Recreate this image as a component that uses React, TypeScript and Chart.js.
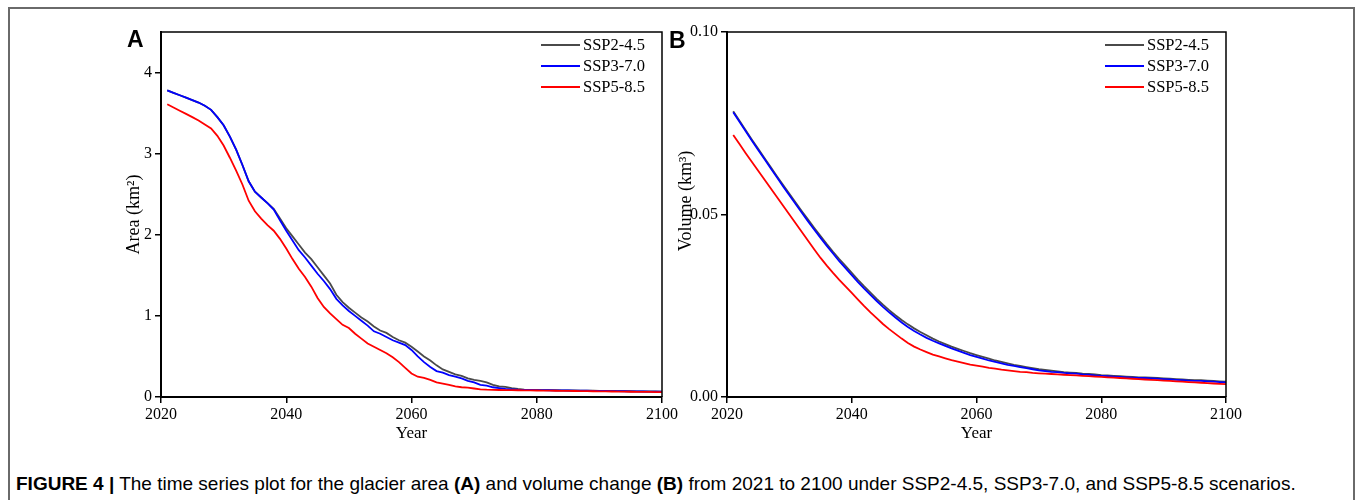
import React, { useEffect, useRef } from "react";
import { Chart, registerables } from "chart.js";

Chart.register(...registerables);

// ---------- data ----------
const years = [
  2021, 2022, 2023, 2024, 2025, 2026, 2027, 2028, 2029, 2030,
  2031, 2032, 2033, 2034, 2035, 2036, 2037, 2038, 2039, 2040,
  2041, 2042, 2043, 2044, 2045, 2046, 2047, 2048, 2049, 2050,
  2051, 2052, 2053, 2054, 2055, 2056, 2057, 2058, 2059, 2060,
  2061, 2062, 2063, 2064, 2065, 2066, 2067, 2068, 2069, 2070,
  2071, 2072, 2073, 2074, 2075, 2076, 2077, 2078, 2079, 2080,
  2081, 2082, 2083, 2084, 2085, 2086, 2087, 2088, 2089, 2090,
  2091, 2092, 2093, 2094, 2095, 2096, 2097, 2098, 2099, 2100,
];

const seriesNames = ["SSP2-4.5", "SSP3-7.0", "SSP5-8.5"];
const seriesColors = ["#4a4a4a", "#0000ff", "#ff0000"];

// Panel A: glacier area (km²)
const areaSSP245 = [
  3.78, 3.75, 3.72, 3.69, 3.66, 3.63, 3.59, 3.54, 3.45, 3.35,
  3.21, 3.05, 2.86, 2.66, 2.53, 2.46, 2.39, 2.32, 2.2, 2.08,
  1.98, 1.88, 1.78, 1.7, 1.6, 1.5, 1.4, 1.26, 1.17, 1.1,
  1.04, 0.98, 0.93, 0.87, 0.82, 0.79, 0.74, 0.7, 0.67, 0.62,
  0.56, 0.5, 0.45, 0.39, 0.34, 0.31, 0.28, 0.26, 0.23, 0.21,
  0.2, 0.18, 0.15, 0.13, 0.125, 0.11, 0.1, 0.092, 0.088, 0.086,
  0.085, 0.084, 0.083, 0.082, 0.081, 0.08, 0.079, 0.078, 0.077, 0.076,
  0.075, 0.074, 0.073, 0.072, 0.071, 0.07, 0.069, 0.068, 0.068, 0.067,
];
const areaSSP370 = [
  3.78, 3.75, 3.72, 3.69, 3.66, 3.63, 3.59, 3.54, 3.45, 3.35,
  3.21, 3.05, 2.86, 2.66, 2.53, 2.46, 2.39, 2.31, 2.18, 2.05,
  1.93, 1.81, 1.72, 1.62, 1.52, 1.43, 1.33, 1.21, 1.13, 1.06,
  1.0, 0.94, 0.88, 0.81, 0.78, 0.74, 0.7, 0.67, 0.64, 0.58,
  0.5, 0.43, 0.37, 0.32, 0.3, 0.27, 0.25, 0.23, 0.2, 0.18,
  0.15, 0.14, 0.12, 0.11, 0.1, 0.095, 0.09, 0.088, 0.086, 0.085,
  0.084, 0.083, 0.082, 0.081, 0.08, 0.079, 0.078, 0.077, 0.076, 0.075,
  0.074, 0.073, 0.072, 0.071, 0.07, 0.069, 0.068, 0.067, 0.066, 0.066,
];
const areaSSP585 = [
  3.61, 3.57, 3.53, 3.49, 3.45, 3.41, 3.36, 3.31, 3.22, 3.1,
  2.95, 2.79, 2.62, 2.42, 2.29, 2.2, 2.12, 2.05, 1.95, 1.83,
  1.7, 1.58, 1.48, 1.36, 1.22, 1.11, 1.03, 0.96, 0.89, 0.85,
  0.78, 0.72, 0.66, 0.62, 0.58, 0.54, 0.49, 0.43, 0.36, 0.29,
  0.25, 0.235, 0.21, 0.18, 0.165, 0.15, 0.13, 0.12, 0.115, 0.105,
  0.095, 0.09, 0.088, 0.086, 0.085, 0.084, 0.083, 0.082, 0.081, 0.08,
  0.079, 0.078, 0.077, 0.076, 0.075, 0.074, 0.073, 0.072, 0.071, 0.07,
  0.069, 0.068, 0.067, 0.066, 0.065, 0.064, 0.063, 0.062, 0.061, 0.06,
];

// Panel B: glacier volume (km³)
const volumeSSP245 = [
  0.0783, 0.0757, 0.0731, 0.0705, 0.068, 0.0655, 0.063, 0.0605, 0.0581, 0.0557,
  0.0533, 0.0509, 0.0486, 0.0463, 0.0441, 0.0419, 0.0398, 0.0378, 0.0359, 0.034,
  0.0321, 0.0303, 0.0286, 0.0269, 0.0253, 0.0238, 0.0224, 0.0211, 0.0199, 0.0188,
  0.0178, 0.0169, 0.016, 0.0152, 0.0145, 0.0138, 0.0132, 0.0126, 0.012, 0.0115,
  0.011, 0.0105, 0.01, 0.0096, 0.0092, 0.0088, 0.0085, 0.0082, 0.0079, 0.0076,
  0.0074, 0.0072, 0.007, 0.0068, 0.0067, 0.0066, 0.0064, 0.0063, 0.0062, 0.006,
  0.0059, 0.0058, 0.0057, 0.0056, 0.0055, 0.0054, 0.0054, 0.0053, 0.0052, 0.0051,
  0.005, 0.0049, 0.0048, 0.0047, 0.0046, 0.0046, 0.0045, 0.0044, 0.0043, 0.0042,
];
const volumeSSP370 = [
  0.078, 0.0754, 0.0728, 0.0702, 0.0677, 0.0652, 0.0627, 0.0602, 0.0577, 0.0553,
  0.0529, 0.0505, 0.0481, 0.0458, 0.0436, 0.0414, 0.0393, 0.0372, 0.0353, 0.0334,
  0.0315, 0.0297, 0.028, 0.0263, 0.0247, 0.0232, 0.0218, 0.0204, 0.0192, 0.0181,
  0.0171, 0.0162, 0.0154, 0.0147, 0.014, 0.0133, 0.0127, 0.0121, 0.0115, 0.011,
  0.0105, 0.01, 0.0096, 0.0092, 0.0088, 0.0085, 0.0082, 0.0079, 0.0076, 0.0073,
  0.0071, 0.0069, 0.0068, 0.0066, 0.0065, 0.0064, 0.0062, 0.0061, 0.0059, 0.0058,
  0.0057, 0.0056, 0.0055, 0.0054, 0.0053, 0.0052, 0.0052, 0.0051, 0.005, 0.0049,
  0.0048, 0.0047, 0.0046, 0.0045, 0.0044, 0.0044, 0.0043, 0.0042, 0.0041, 0.004,
];
const volumeSSP585 = [
  0.0718, 0.0693, 0.0668, 0.0644, 0.062, 0.0596, 0.0572, 0.0548, 0.0524, 0.05,
  0.0476, 0.0452, 0.0428, 0.0404, 0.0381, 0.036, 0.034, 0.0321, 0.0303, 0.0285,
  0.0267, 0.0249, 0.0232, 0.0216, 0.02, 0.0186, 0.0173, 0.016, 0.0148, 0.0138,
  0.013, 0.0123, 0.0116, 0.0111, 0.0106, 0.0101, 0.0097, 0.0093, 0.0089, 0.0086,
  0.0083, 0.008, 0.0078, 0.0075, 0.0073, 0.0071, 0.0069, 0.0068, 0.0066, 0.0065,
  0.0064, 0.0063, 0.0062, 0.0061, 0.006, 0.0059, 0.0058, 0.0057, 0.0056, 0.0055,
  0.0054, 0.0053, 0.0052, 0.0051, 0.005, 0.0049, 0.0048, 0.0047, 0.0046, 0.0045,
  0.0044, 0.0043, 0.0042, 0.0041, 0.004, 0.0039, 0.0038, 0.0037, 0.0036, 0.0035,
];

const xTicks = [2020, 2040, 2060, 2080, 2100];
const xRange = [2020, 2100];
const areaTicks = [0, 1, 2, 3, 4];
const areaRange = [0, 4.5];
const volumeTicks = [0, 0.05, 0.1];
const volumeRange = [0, 0.1];

const captionBold = "FIGURE 4 |";
const captionParts = [
  " The time series plot for the glacier area ",
  "(A)",
  " and volume change ",
  "(B)",
  " from 2021 to 2100 under SSP2-4.5, SSP3-7.0, and SSP5-8.5 scenarios.",
];

// ---------- styling ----------
const SERIF = "'Liberation Serif', 'Times New Roman', serif";
const SANS = "'Liberation Sans', Arial, Helvetica, sans-serif";

const frameLegendPlugin = {
  id: "frameLegend",
  afterDatasetsDraw(chart: any) {
    const { ctx, chartArea: a } = chart;
    ctx.save();
    ctx.strokeStyle = "#000";
    ctx.lineWidth = 1.5;
    ctx.beginPath();
    ctx.moveTo(a.left, a.top);
    ctx.lineTo(a.right, a.top);
    ctx.lineTo(a.right, a.bottom);
    ctx.stroke();

    ctx.font = `16.5px ${SERIF}`;
    ctx.textBaseline = "middle";
    ctx.textAlign = "left";
    chart.data.datasets.forEach((ds: any, i: number) => {
      const y = a.top + 13 + i * 21;
      ctx.strokeStyle = ds.borderColor;
      ctx.lineWidth = 2;
      ctx.beginPath();
      ctx.moveTo(a.right - 121, y);
      ctx.lineTo(a.right - 82, y);
      ctx.stroke();
      ctx.fillStyle = "#000";
      ctx.fillText(ds.label, a.right - 79, y + 1);
    });
    ctx.restore();
  },
};

function buildConfig(
  series: number[][],
  yRange: number[],
  yTicks: number[],
  yTitle: string,
  yFormat: (v: number) => string,
  yAxisWidth: number,
  yTitlePad: number,
  rightPad: number
) {
  return {
    type: "line" as const,
    data: {
      datasets: series.map((vals, i) => ({
        label: seriesNames[i],
        data: years.map((yr, j) => ({ x: yr, y: vals[j] })),
        borderColor: seriesColors[i],
        backgroundColor: seriesColors[i],
        borderWidth: 1.8,
        pointRadius: 0,
        tension: 0,
        fill: false,
        order: 3 - i,
      })),
    },
    options: {
      responsive: false,
      animation: false,
      devicePixelRatio: 1,
      layout: { padding: { left: 0, top: 17, right: rightPad, bottom: 0 } },
      plugins: {
        legend: { display: false },
        tooltip: { enabled: false },
        title: { display: false },
      },
      scales: {
        x: {
          type: "linear",
          min: xRange[0],
          max: xRange[1],
          afterBuildTicks: (axis: any) => {
            axis.ticks = xTicks.map((v) => ({ value: v }));
          },
          afterFit: (axis: any) => {
            axis.height = 48;
          },
          ticks: {
            color: "#000",
            font: { family: SERIF, size: 16 },
            padding: 2,
            maxRotation: 0,
            callback: (v: any) => String(v),
          },
          grid: {
            drawOnChartArea: false,
            drawTicks: true,
            tickLength: 6,
            color: "#000",
            lineWidth: 1.5,
          },
          border: { display: true, color: "#000", width: 2 },
          title: {
            display: true,
            text: "Year",
            color: "#000",
            font: { family: SERIF, size: 17 },
            padding: { top: 0, bottom: 1 },
          },
        },
        y: {
          type: "linear",
          min: yRange[0],
          max: yRange[1],
          afterBuildTicks: (axis: any) => {
            axis.ticks = yTicks.map((v) => ({ value: v }));
          },
          afterFit: (axis: any) => {
            axis.width = yAxisWidth;
          },
          ticks: {
            color: "#000",
            font: { family: SERIF, size: 16 },
            padding: 3,
            callback: (v: any) => yFormat(Number(v)),
          },
          grid: {
            drawOnChartArea: false,
            drawTicks: true,
            tickLength: 6,
            color: "#000",
            lineWidth: 1.5,
          },
          border: { display: true, color: "#000", width: 2 },
          title: {
            display: true,
            text: yTitle,
            color: "#000",
            font: { family: SERIF, size: 18 },
            padding: { top: yTitlePad, bottom: 0 },
          },
        },
      },
    },
    plugins: [frameLegendPlugin],
  };
}

function ChartCanvas(props: {
  config: any;
  left: number;
  top: number;
  width: number;
  height: number;
}) {
  const ref = useRef<HTMLCanvasElement | null>(null);
  useEffect(() => {
    if (!ref.current) return;
    const chart = new Chart(ref.current, props.config);
    return () => chart.destroy();
  }, []);
  return (
    <canvas
      ref={ref}
      width={props.width}
      height={props.height}
      style={{
        position: "absolute",
        left: props.left,
        top: props.top,
        width: props.width,
        height: props.height,
      }}
    />
  );
}

export default function App() {
  useEffect(() => {
    document.body.style.overflow = "hidden";
  }, []);

  const configA = buildConfig(
    [areaSSP245, areaSSP370, areaSSP585],
    areaRange,
    areaTicks,
    "Area (km²)",
    (v) => String(v),
    66,
    28,
    23
  );
  const configB = buildConfig(
    [volumeSSP245, volumeSSP370, volumeSSP585],
    volumeRange,
    volumeTicks,
    "\u00A0\u00A0\u00A0\u00A0\u00A0\u00A0Volume (km³)",
    (v) => v.toFixed(2),
    72,
    20,
    25
  );

  return (
    <div>
      <div
        style={{
          position: "absolute",
          left: 8,
          top: 7,
          width: 1347,
          height: 493,
          boxSizing: "border-box",
          borderTop: "2px solid #6a6a6a",
          borderLeft: "2px solid #6a6a6a",
          borderRight: "2px solid #6a6a6a",
        }}
      />
      <ChartCanvas config={configA} left={95} top={15} width={590} height={430} />
      <ChartCanvas config={configB} left={655} top={15} width={596} height={430} />
      <div
        style={{
          position: "absolute",
          left: 127,
          top: 27,
          font: `bold 23px ${SANS}`,
          lineHeight: "24px",
          color: "#000",
        }}
      >
        A
      </div>
      <div
        style={{
          position: "absolute",
          left: 669,
          top: 28,
          font: `bold 23px ${SANS}`,
          lineHeight: "24px",
          color: "#000",
        }}
      >
        B
      </div>
      <div
        style={{
          position: "absolute",
          left: 16,
          top: 473,
          font: `19px ${SANS}`,
          lineHeight: "22px",
          color: "#000",
          whiteSpace: "nowrap",
        }}
      >
        <b>{captionBold}</b>
        {captionParts[0]}
        <b>{captionParts[1]}</b>
        {captionParts[2]}
        <b>{captionParts[3]}</b>
        {captionParts[4]}
      </div>
    </div>
  );
}
